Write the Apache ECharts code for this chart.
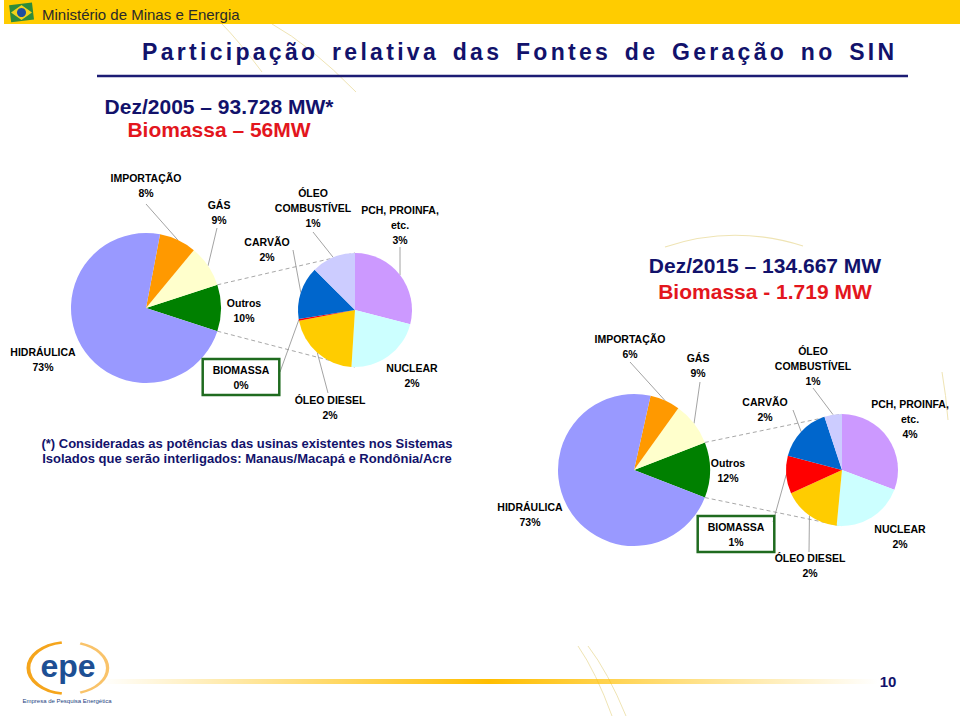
<!DOCTYPE html>
<html><head><meta charset="utf-8">
<script src="https://cdn.jsdelivr.net/npm/echarts@6/dist/echarts.min.js"></script>
<style>html,body{margin:0;padding:0;background:#fff}#c{width:960px;height:716px}</style>
</head><body><div id="c"></div>
<script>
// ---------------- data ----------------
const mainCategories = ['Outros', 'GÁS', 'IMPORTAÇÃO', 'HIDRÁULICA'];
const main2005 = [10, 9, 8, 73];
const main2015 = [11.8, 9.2, 6.4, 72.6];
const subCategories = ['PCH, PROINFA,\netc.', 'NUCLEAR', 'ÓLEO DIESEL', 'BIOMASSA', 'CARVÃO', 'ÓLEO\nCOMBUSTÍVEL'];
const sub2005 = [2.9, 2.2, 2.1, 0.05, 1.5, 1.25];
const sub2015 = [3.63, 2.45, 1.97, 1.28, 1.87, 0.6];
const titleText = 'Participação relativa das Fontes de Geração no SIN';
const header2005 = ['Dez/2005 – 93.728 MW*', 'Biomassa – 56MW'];
const header2015 = ['Dez/2015 – 134.667 MW', 'Biomassa - 1.719 MW'];
const footnote = ['(*) Consideradas as potências das usinas existentes nos Sistemas', 'Isolados que serão interligados: Manaus/Macapá e Rondônia/Acre'];
const pageNumber = '10';

// ---------------- styles / layout ----------------
const mainColors = ['#008000', '#FFFFCC', '#FF9900', '#9999FF'];
const subColors = ['#CC99FF', '#CCFFFF', '#FFCC00', '#FF0000', '#0066CC', '#CCCCFF'];
const NAVY = '#12126B';
const RED = '#E3161D';
const FONT = 'Liberation Sans, Arial, sans-serif';
const geo = {
  m05: {c: [146, 308], r: 75},
  s05: {c: [355, 310], r: 57},
  m15: {c: [634, 470], r: 76},
  s15: {c: [842, 470], r: 56}
};
// label centre and leader start (null = no leader)
const labelPos = {
  m05: [[244, 310, null], [219, 212, [217, 228]], [146, 185, [146, 204]], [43, 359, null]],
  s05: [[400, 225, [400, 247]], [412, 375, null], [330, 407, [328, 393]], [241, 377, [280, 372]], [267, 249, [293, 250]], [313, 208, [313, 232]]],
  m15: [[728, 470, null], [698, 365, [700, 382]], [630, 346, [630, 362]], [530, 514, null]],
  s15: [[910, 419, null], [900, 536, null], [810, 565, [809, 552]], [736, 534, [773, 522]], [765, 409, [793, 410]], [813, 366, [813, 388]]]
};

function pct(v) { return Math.round(v) + '%'; }

function midPoint(key, values, idx, startAngle, clockwise) {
  const g = geo[key];
  const total = values.reduce((a, b) => a + b, 0);
  let acc = 0;
  for (let i = 0; i < idx; i++) acc += values[i];
  const mid = (acc + values[idx] / 2) / total * 360;
  const ang = (startAngle + (clockwise ? -mid : mid)) * Math.PI / 180;
  return [g.c[0] + g.r * Math.cos(ang), g.c[1] - g.r * Math.sin(ang)];
}

function makeSeries(key, names, values, colors, startAngle, clockwise) {
  const g = geo[key];
  const data = names.map((n, i) => {
    const d = {name: n, value: values[i], itemStyle: {color: colors[i]}};
    if (!labelPos[key][i][2]) d.labelLine = {show: false};
    if (n === 'BIOMASSA') d.label = {borderColor: '#1F6B1F', borderWidth: 2.5, padding: [4, 10, 2, 10]};
    return d;
  });
  return {
    type: 'pie', id: key, center: g.c, radius: g.r,
    startAngle: startAngle, clockwise: clockwise,
    avoidLabelOverlap: false, animation: false, silent: true,
    itemStyle: {borderWidth: 0},
    label: {
      show: true, position: 'outside', color: '#000', fontFamily: FONT,
      fontSize: 10.5, fontWeight: 'bold', lineHeight: 15, align: 'center',
      formatter: p => p.name + '\n' + pct(p.value)
    },
    labelLine: {show: true, length: 8, length2: 8, lineStyle: {color: '#8C8C8C', width: 0.8}},
    labelLayout: function (p) {
      const lp = labelPos[key][p.dataIndex];
      const res = {x: lp[0], y: lp[1], align: 'center', verticalAlign: 'middle'};
      if (lp[2]) {
        const end = (p.labelLinePoints && p.labelLinePoints[0]) || midPoint(key, values, p.dataIndex, startAngle, clockwise);
        res.labelLinePoints = [lp[2], lp[2], end];
      }
      return res;
    },
    data: data
  };
}

function connectors(mKey, sKey, outrosValue, mainValues) {
  const total = mainValues.reduce((a, b) => a + b, 0);
  const half = outrosValue / total * 180 * Math.PI / 180;
  const m = geo[mKey], s = geo[sKey];
  const top = [m.c[0] + m.r * Math.cos(half), m.c[1] - m.r * Math.sin(half)];
  const bot = [m.c[0] + m.r * Math.cos(half), m.c[1] + m.r * Math.sin(half)];
  const st = {stroke: '#A8A8A8', lineWidth: 1, lineDash: [4, 3]};
  return [
    {type: 'line', z: -1, shape: {x1: top[0], y1: top[1], x2: s.c[0], y2: s.c[1] - s.r}, style: st},
    {type: 'line', z: -1, shape: {x1: bot[0], y1: bot[1], x2: s.c[0], y2: s.c[1] + s.r}, style: st}
  ];
}

const start05 = -(main2005[0] / main2005.reduce((a, b) => a + b, 0)) * 180;
const start15 = -(main2015[0] / main2015.reduce((a, b) => a + b, 0)) * 180;

const swoosh = '#EFE4B4';
const graphic = [
  // decorative background swooshes
  {type: 'bezierCurve', z: -5, shape: {x1: 222, y1: 24, cpx1: 238, cpy1: 40, x2: 262, y2: 72}, style: {stroke: swoosh, lineWidth: 1, fill: null}},
  {type: 'bezierCurve', z: -5, shape: {x1: 272, y1: 24, cpx1: 310, cpy1: 45, x2: 356, y2: 92}, style: {stroke: swoosh, lineWidth: 1, fill: null}},
  {type: 'bezierCurve', z: -5, shape: {x1: 665, y1: 247, cpx1: 733, cpy1: 224, x2: 803, y2: 246}, style: {stroke: swoosh, lineWidth: 1.2, fill: null}},
  {type: 'bezierCurve', z: -5, shape: {x1: 578, y1: 646, cpx1: 596, cpy1: 672, x2: 612, y2: 716}, style: {stroke: swoosh, lineWidth: 1, fill: null}},
  {type: 'bezierCurve', z: -5, shape: {x1: 588, y1: 646, cpx1: 608, cpy1: 672, x2: 626, y2: 716}, style: {stroke: swoosh, lineWidth: 1, fill: null}},
  {type: 'bezierCurve', z: -5, shape: {x1: 942, y1: 372, cpx1: 946, cpy1: 395, x2: 948, y2: 420}, style: {stroke: swoosh, lineWidth: 1, fill: null}},
  // header band
  {type: 'rect', z: 1, shape: {x: 4, y: 0, width: 956, height: 24}, style: {fill: '#FFCC00'}},
  {type: 'rect', z: 2, shape: {x: 10, y: 4, width: 23, height: 17}, rotation: 0.12, originX: 21, originY: 12, style: {fill: '#2E8B3A'}},
  {type: 'polygon', z: 3, shape: {points: [[21.5, 5], [32, 12.5], [21.5, 20], [11, 12.5]]}, style: {fill: '#F2D21B'}},
  {type: 'circle', z: 4, shape: {cx: 21.5, cy: 12.5, r: 4.5}, style: {fill: '#1F4FA0'}},
  {type: 'text', z: 3, x: 42, y: 14, style: {text: 'Ministério de Minas e Energia', font: '15px "Liberation Sans Narrow", "Arial Narrow", sans-serif', fill: '#2A2A2A', textVerticalAlign: 'middle'}},
  // title
  {type: 'text', z: 3, x: 142, y: 52, style: {text: titleText, font: 'bold 23px ' + FONT, fill: NAVY, textVerticalAlign: 'middle'}},
  {type: 'line', z: 3, shape: {x1: 97, y1: 76, x2: 908, y2: 76}, style: {stroke: '#1C1C74', lineWidth: 2.5}},
  // subtitles
  {type: 'text', z: 3, x: 219, y: 106, style: {text: header2005[0], font: 'bold 21px ' + FONT, fill: NAVY, textAlign: 'center', textVerticalAlign: 'middle'}},
  {type: 'text', z: 3, x: 219, y: 129, style: {text: header2005[1], font: 'bold 21px ' + FONT, fill: RED, textAlign: 'center', textVerticalAlign: 'middle'}},
  {type: 'text', z: 3, x: 765, y: 265, style: {text: header2015[0], font: 'bold 21px ' + FONT, fill: NAVY, textAlign: 'center', textVerticalAlign: 'middle'}},
  {type: 'text', z: 3, x: 765, y: 291, style: {text: header2015[1], font: 'bold 21px ' + FONT, fill: RED, textAlign: 'center', textVerticalAlign: 'middle'}},
  // footnote
  {type: 'text', z: 3, x: 247, y: 443, style: {text: footnote[0], font: 'bold 13px ' + FONT, fill: NAVY, textAlign: 'center', textVerticalAlign: 'middle'}},
  {type: 'text', z: 3, x: 247, y: 458, style: {text: footnote[1], font: 'bold 13px ' + FONT, fill: NAVY, textAlign: 'center', textVerticalAlign: 'middle'}},
  // footer: gradient bar
  {type: 'rect', z: 1, shape: {x: 100, y: 679, width: 778, height: 5},
    style: {fill: new echarts.graphic.LinearGradient(0, 0, 1, 0, [
      {offset: 0, color: 'rgba(255,192,0,0)'}, {offset: 0.5, color: 'rgba(255,190,0,1)'}, {offset: 1, color: 'rgba(255,192,0,0)'}])}},
  {type: 'text', z: 3, x: 888, y: 681, style: {text: pageNumber, font: 'bold 15px ' + FONT, fill: NAVY, textAlign: 'center', textVerticalAlign: 'middle'}},
  // footer: epe logo
  {type: 'arc', z: 2, shape: {cx: 68, cy: 668, r: 36, startAngle: Math.PI * 0.55, endAngle: Math.PI * 1.45}, scaleX: 1.1, scaleY: 0.72, originX: 68, originY: 668, style: {stroke: '#F5A51C', lineWidth: 3.5, fill: null}},
  {type: 'arc', z: 2, shape: {cx: 68, cy: 668, r: 36, startAngle: Math.PI * 1.6, endAngle: Math.PI * 0.4}, scaleX: 1.1, scaleY: 0.72, originX: 68, originY: 668, style: {stroke: '#F9C36A', lineWidth: 3, fill: null}},
  {type: 'text', z: 3, x: 68, y: 666, style: {text: 'epe', font: 'bold 32px ' + FONT, fill: '#1D4F94', textAlign: 'center', textVerticalAlign: 'middle'}},
  {type: 'text', z: 3, x: 67, y: 701, style: {text: 'Empresa de Pesquisa Energética', font: '6px ' + FONT, fill: '#1D3F80', textAlign: 'center', textVerticalAlign: 'middle'}}
].concat(connectors('m05', 's05', main2005[0], main2005))
 .concat(connectors('m15', 's15', main2015[0], main2015));

const chart = echarts.init(document.getElementById('c'), null, {renderer: 'svg', width: 960, height: 716});
chart.setOption({
  backgroundColor: '#fff',
  animation: false,
  graphic: graphic,
  series: [
    makeSeries('m05', mainCategories, main2005, mainColors, start05, false),
    makeSeries('s05', subCategories, sub2005, subColors, 90, true),
    makeSeries('m15', mainCategories, main2015, mainColors, start15, false),
    makeSeries('s15', subCategories, sub2015, subColors, 90, true)
  ]
});

function spaceTitle() {
  document.querySelectorAll('#c text').forEach(t => {
    if (t.textContent === titleText) {
      t.setAttribute('letter-spacing', '3.3');
      t.setAttribute('word-spacing', '4');
      t.style.letterSpacing = '3.3px';
      t.style.wordSpacing = '4px';
    }
  });
}
spaceTitle();
chart.on('finished', spaceTitle);
setTimeout(spaceTitle, 50);
</script></body></html>
